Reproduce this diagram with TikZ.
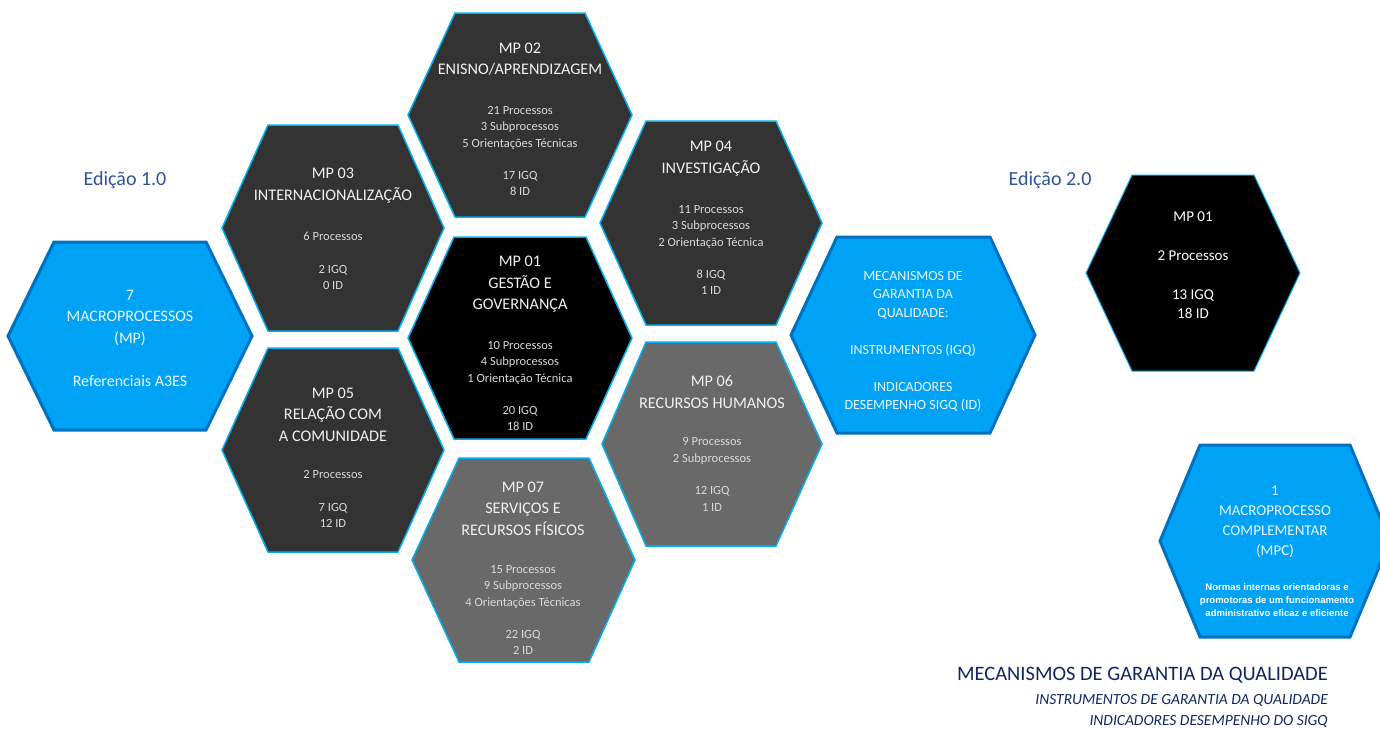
\documentclass[tikz,border=0pt]{standalone}
\usepackage{fontspec}
\setmainfont{Carlito}
\newfontfamily\notefont{Liberation Sans}
\usepackage{tikz}
\definecolor{mpblue}{RGB}{0,162,245}
\definecolor{mpblueline}{RGB}{0,112,192}
\definecolor{hexline}{RGB}{0,176,240}
\definecolor{mpdark}{RGB}{51,51,51}
\definecolor{mpgray}{RGB}{105,105,105}
\definecolor{edtext}{RGB}{47,85,151}
\definecolor{navytext}{RGB}{16,38,96}

\begin{document}
\begin{tikzpicture}[x=1pt, y=-1pt,
    bluehex/.style={fill=mpblue, draw=mpblueline, line width=3pt},
    darkhex/.style={fill=mpdark, draw=hexline, line width=1.5pt},
    blackhex/.style={fill=black, draw=hexline, line width=1.5pt},
    grayhex/.style={fill=mpgray, draw=hexline, line width=1.5pt},
    mptitle/.style={align=center, inner sep=0pt, text=white!94!black, font=\fontsize{16.2}{21.5}\selectfont},
    mpbody/.style={align=center, inner sep=0pt, text=white!85!black, font=\fontsize{12.5}{16.4}\selectfont},
    bluetext/.style={align=center, inner sep=0pt, text=white!92!mpblue}]
    \useasboundingbox (0,0) rectangle (1380,729);

    % Edicao 1.0 hexagons
    \draw[bluehex]  (8,336) -- (54,242) -- (206,242) -- (252,336) -- (206,430) -- (54,430) -- cycle;
    \draw[darkhex]  (222,228) -- (268,125) -- (398,125) -- (444,228) -- (398,331) -- (268,331) -- cycle;
    \draw[darkhex]  (408,115) -- (455,13) -- (585,13) -- (632,115) -- (585,217) -- (455,217) -- cycle;
    \draw[blackhex] (408,338) -- (454,237) -- (586,237) -- (632,338) -- (586,439) -- (454,439) -- cycle;
    \draw[darkhex]  (600,223) -- (646,121) -- (776,121) -- (822,223) -- (776,325) -- (646,325) -- cycle;
    \draw[darkhex]  (222,450) -- (268,348) -- (398,348) -- (444,450) -- (398,552) -- (268,552) -- cycle;
    \draw[grayhex]  (602,444) -- (646,342) -- (776,342) -- (822,444) -- (776,546) -- (646,546) -- cycle;
    \draw[grayhex]  (412,560) -- (459,458) -- (589,458) -- (635,560) -- (589,662) -- (459,662) -- cycle;
    \draw[bluehex]  (791,335) -- (837,237) -- (990,237) -- (1035,335) -- (990,433) -- (837,433) -- cycle;

    % Edicao 2.0 hexagons
    \draw[blackhex, line width=1pt] (1086,273) -- (1132,175) -- (1254,175) -- (1300,273) -- (1254,371) -- (1132,371) -- cycle;
    \draw[bluehex]  (1160,541) -- (1200,445) -- (1350,445) -- (1390,541) -- (1350,637) -- (1200,637) -- cycle;

    % edition labels
    \node[text=edtext, font=\fontsize{20}{24}\selectfont] (ed1) at (125,180) {Edição 1.0};
    \node[text=edtext, font=\fontsize{20}{24}\selectfont] (ed2) at (1050,180) {Edição 2.0};

    % texts
    \node[bluetext, font=\fontsize{16}{21.5}\selectfont] (a3es) at (130,338)
        {7\\ MACROPROCESSOS\\ (MP)\\[21.5pt] Referenciais A3ES};

    \node[mptitle] (mp03) at (333,185.5) {MP 03\\ INTERNACIONALIZAÇÃO};
    \node[mpbody] (mp03b) at (333,261) {6 Processos\\[16pt] 2 IGQ\\ 0 ID};

    \node[mptitle] (mp02) at (520,59) {MP 02\\ ENISNO/APRENDIZAGEM};
    \node[mpbody] (mp02b) at (520,151)
        {21 Processos\\ 3 Subprocessos\\ 5 Orientações Técnicas\\[16pt] 17 IGQ\\ 8 ID};

    \node[mptitle] (mp01) at (520,284.5) {MP 01\\ GESTÃO E\\ GOVERNANÇA};
    \node[mpbody] (mp01b) at (520,386)
        {10 Processos\\ 4 Subprocessos\\ 1 Orientação Técnica\\[16pt] 20 IGQ\\ 18 ID};

    \node[mptitle] (mp04) at (711,158.5) {MP 04\\ INVESTIGAÇÃO};
    \node[mpbody] (mp04b) at (711,250)
        {11 Processos\\ 3 Subprocessos\\ 2 Orientação Técnica\\[16pt] 8 IGQ\\ 1 ID};

    \node[mptitle] (mp05) at (333,414.5) {MP 05\\ RELAÇÃO COM\\ A COMUNIDADE};
    \node[mpbody] (mp05b) at (333,499) {2 Processos\\[16pt] 7 IGQ\\ 12 ID};

    \node[mptitle] (mp06) at (712,392) {MP 06\\ RECURSOS HUMANOS};
    \node[mpbody] (mp06b) at (712,474.5) {9 Processos\\ 2 Subprocessos\\[16pt] 12 IGQ\\ 1 ID};

    \node[mptitle] (mp07) at (523,508.5) {MP 07\\ SERVIÇOS E\\ RECURSOS FÍSICOS};
    \node[mpbody] (mp07b) at (523,610)
        {15 Processos\\ 9 Subprocessos\\ 4 Orientações Técnicas\\[16pt] 22 IGQ\\ 2 ID};

    \node[bluetext, font=\fontsize{14}{18.5}\selectfont] (mgq) at (913,341.5)
        {MECANISMOS DE\\ GARANTIA DA\\ QUALIDADE:\\[18.5pt] INSTRUMENTOS (IGQ)\\[18.5pt] INDICADORES\\ DESEMPENHO SIGQ (ID)};

    \node[mptitle, text=white, font=\fontsize{15}{19.5}\selectfont] (mp01e2) at (1193,265)
        {MP 01\\[19.5pt] 2 Processos\\[19.5pt] 13 IGQ\\ 18 ID};

    \node[bluetext, font=\fontsize{15}{20}\selectfont] (mpc) at (1275,522)
        {1\\ MACROPROCESSO\\ COMPLEMENTAR\\ (MPC)};
    \node[bluetext, text=white, font=\notefont\bfseries\fontsize{9.5}{13}\selectfont] (mpcnote) at (1277,600)
        {Normas internas orientadoras e\\ promotoras de um funcionamento\\ administrativo eficaz e eficiente};

    % legend bottom right
    \node[anchor=east, inner sep=0pt, text=navytext, font=\fontsize{20.5}{24}\selectfont] (leg1) at (1328,675)
        {MECANISMOS DE GARANTIA DA QUALIDADE};
    \node[anchor=east, inner sep=0pt, text=navytext, font=\itshape\fontsize{15.5}{18}\selectfont] (leg2) at (1328,700)
        {INSTRUMENTOS DE GARANTIA DA QUALIDADE};
    \node[anchor=east, inner sep=0pt, text=navytext, font=\itshape\fontsize{15.5}{18}\selectfont] (leg3) at (1328,721)
        {INDICADORES DESEMPENHO DO SIGQ};
\end{tikzpicture}
\end{document}
